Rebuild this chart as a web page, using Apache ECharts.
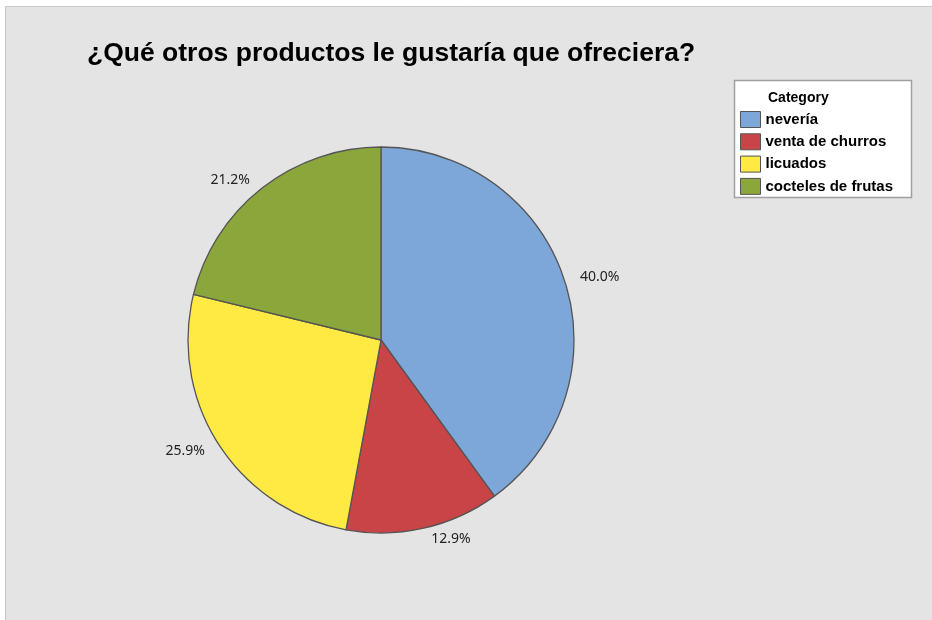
<!DOCTYPE html>
<html><head><meta charset="utf-8">
<script src="https://cdn.jsdelivr.net/npm/echarts@6/dist/echarts.min.js"></script>
<style>html,body{margin:0;padding:0;background:#fff;}#c{width:932px;height:620px;}</style>
</head><body><div id="c"></div>
<script>
const categories = ['nevería', 'venta de churros', 'licuados', 'cocteles de frutas'];
const values = [40.0, 12.9, 25.9, 21.2];
const colors = ['#7DA7D9', '#C94446', '#FFEA44', '#8BA63A'];
const titleText = '¿Qué otros productos le gustaría que ofreciera?';
const legendTitle = 'Category';

const chart = echarts.init(document.getElementById('c'), null, {renderer: 'canvas'});
chart.setOption({
  backgroundColor: '#ffffff',
  animation: false,
  title: [
    {text: titleText, left: 87, top: 40, padding: 0,
     textStyle: {fontFamily: 'Liberation Sans', fontWeight: 'bold', fontSize: 26.5, color: '#000'}},
    {text: legendTitle, left: 768, top: 91, padding: 0,
     textStyle: {fontFamily: 'Liberation Sans', fontWeight: 'bold', fontSize: 14, color: '#000'}}
  ],
  graphic: [
    {type: 'rect', z: -10, shape: {x: 5.5, y: 6.5, width: 940, height: 640},
     style: {fill: '#E4E4E4', stroke: '#C8C8C8', lineWidth: 1}},
    {type: 'rect', z: 1, shape: {x: 734.5, y: 80.5, width: 177, height: 117},
     style: {fill: '#FFFFFF', stroke: '#A0A0A0', lineWidth: 1.5}}
  ],
  legend: {
    orient: 'vertical', left: 740, top: 111, padding: 0,
    itemWidth: 20, itemHeight: 16, itemGap: 5.3, itemTextGap: 8,
    icon: 'rect',
    selectedMode: false,
    itemStyle: {borderColor: '#555', borderWidth: 1},
    textStyle: {fontFamily: 'Liberation Sans', fontWeight: 'bold', fontSize: 15, color: '#000'},
    data: categories
  },
  series: [{
    type: 'pie',
    center: [381, 340],
    radius: 193,
    startAngle: 90,
    clockwise: true,
    avoidLabelOverlap: false,
    color: colors,
    itemStyle: {borderColor: '#555555', borderWidth: 1.3},
    label: {
      show: true, position: 'outside',
      fontFamily: 'Noto Sans', fontSize: 14, color: '#222',
      formatter: p => p.value.toFixed(1) + '%'
    },
    labelLine: {show: false, length: 11, length2: 0},
    emphasis: {disabled: true},
    data: categories.map((c, i) => ({name: c, value: values[i]}))
  }]
});
</script></body></html>
